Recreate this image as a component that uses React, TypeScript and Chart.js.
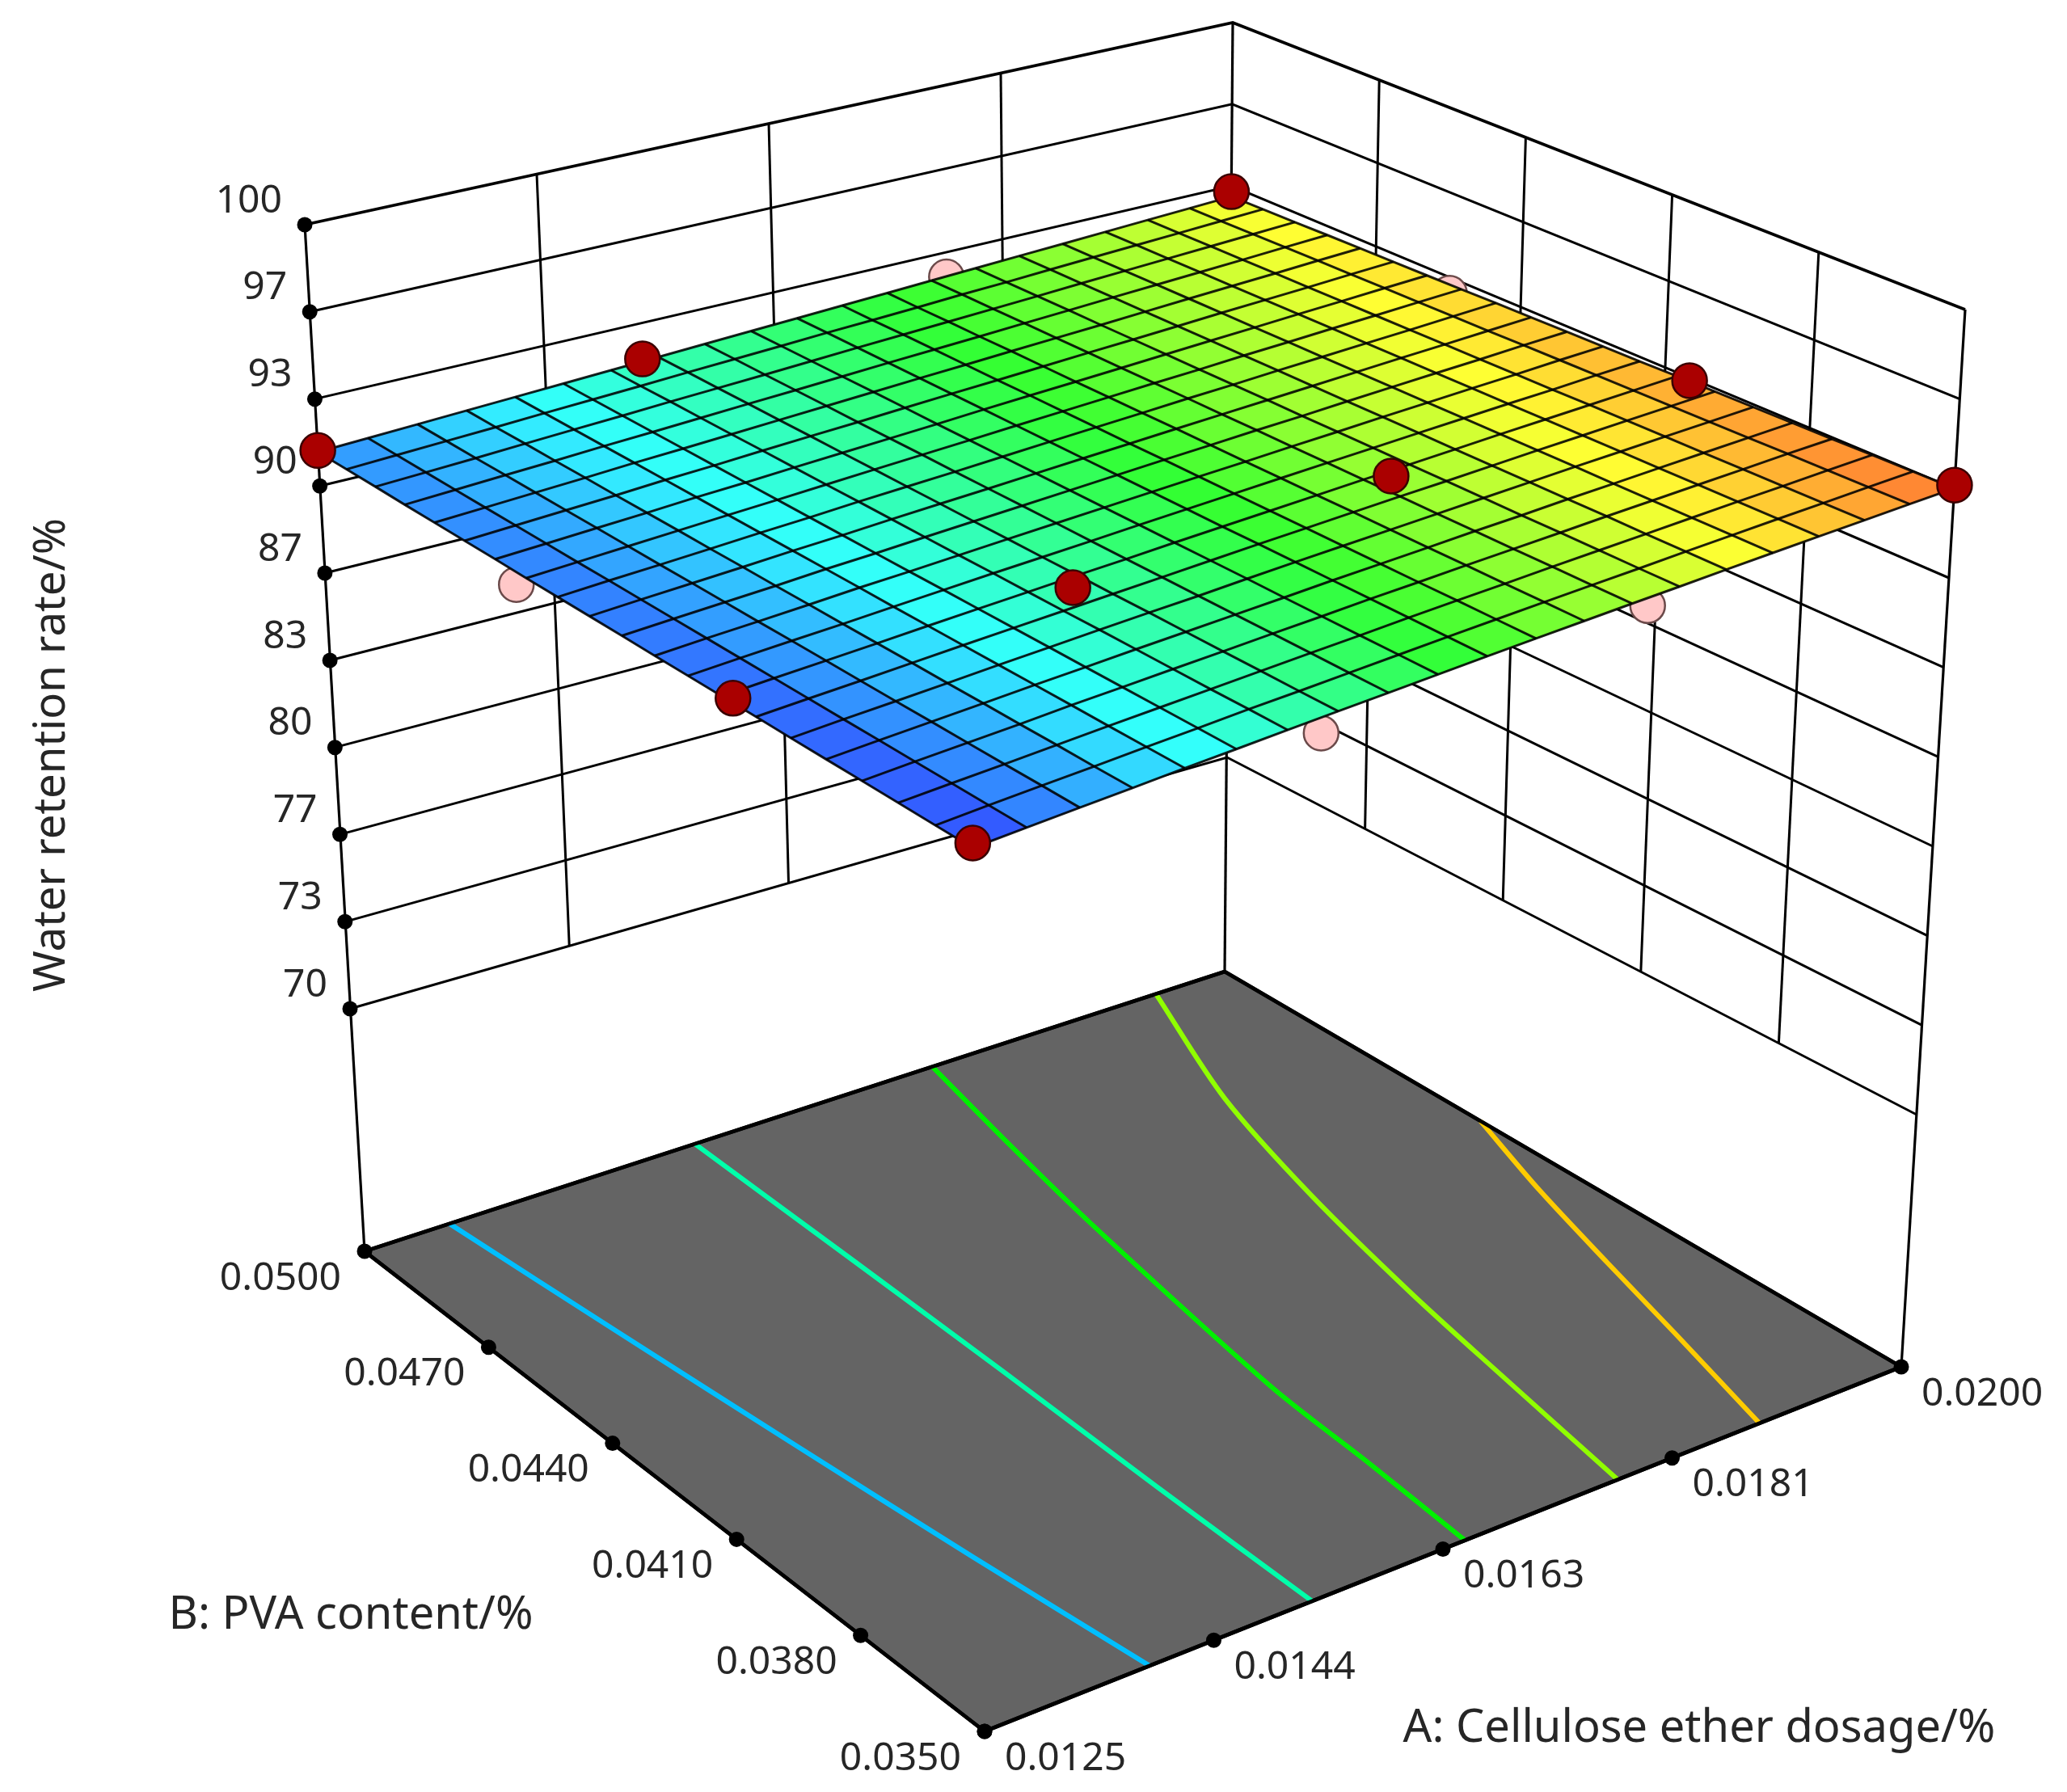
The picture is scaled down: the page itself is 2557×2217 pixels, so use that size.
import React, { useEffect, useRef } from "react";
import { Chart, registerables } from "chart.js";

Chart.register(...registerables);

// ---------- data ----------
const aTicks = [0.0125, 0.014375, 0.01625, 0.018125, 0.02];
const aTickLabels = ["0.0125", "0.0144", "0.0163", "0.0181", "0.0200"];
const bTicks = [0.035, 0.038, 0.041, 0.044, 0.047, 0.05];
const bTickLabels = ["0.0350", "0.0380", "0.0410", "0.0440", "0.0470", "0.0500"];
const zTicks = [70, 73.33, 76.67, 80, 83.33, 86.67, 90, 93.33, 96.67, 100];
const zTickLabels = ["70", "73", "77", "80", "83", "87", "90", "93", "97", "100"];

const surfaceA = [0.0125, 0.012875, 0.01325, 0.013625, 0.014, 0.014375, 0.01475, 0.015125, 0.0155, 0.015875, 0.01625, 0.016625, 0.017, 0.017375, 0.01775, 0.018125, 0.0185, 0.018875, 0.01925, 0.019625, 0.02];
const surfaceB = [0.035, 0.03575, 0.0365, 0.03725, 0.038, 0.03875, 0.0395, 0.04025, 0.041, 0.04175, 0.0425, 0.04325, 0.044, 0.04475, 0.0455, 0.04625, 0.047, 0.04775, 0.0485, 0.04925, 0.05];
// one row per surfaceB value, one column per surfaceA value
const surfaceZ = [
  [91.05,91.19,91.32,91.45,91.59,91.71,91.84,91.96,92.08,92.20,92.32,92.43,92.54,92.65,92.75,92.86,92.96,93.06,93.15,93.25,93.34],
  [91.06,91.20,91.33,91.45,91.59,91.71,91.84,91.95,92.07,92.19,92.31,92.42,92.53,92.63,92.73,92.84,92.94,93.04,93.13,93.23,93.32],
  [91.08,91.21,91.33,91.46,91.59,91.71,91.83,91.95,92.07,92.18,92.30,92.41,92.51,92.62,92.72,92.82,92.92,93.02,93.11,93.21,93.30],
  [91.09,91.22,91.34,91.46,91.60,91.71,91.83,91.94,92.06,92.17,92.29,92.39,92.50,92.60,92.70,92.81,92.90,93.00,93.09,93.19,93.27],
  [91.10,91.23,91.35,91.47,91.60,91.71,91.83,91.94,92.05,92.16,92.28,92.38,92.48,92.59,92.68,92.79,92.88,92.98,93.07,93.16,93.25],
  [91.11,91.24,91.35,91.47,91.60,91.71,91.83,91.94,92.04,92.16,92.27,92.37,92.47,92.57,92.67,92.77,92.87,92.96,93.05,93.14,93.23],
  [91.13,91.25,91.36,91.48,91.60,91.71,91.82,91.93,92.04,92.15,92.26,92.36,92.46,92.56,92.65,92.75,92.85,92.94,93.03,93.12,93.21],
  [91.14,91.26,91.37,91.48,91.60,91.71,91.82,91.93,92.03,92.14,92.24,92.34,92.44,92.54,92.63,92.73,92.83,92.92,93.01,93.10,93.19],
  [91.15,91.27,91.38,91.48,91.60,91.71,91.82,91.92,92.02,92.13,92.23,92.33,92.43,92.53,92.62,92.72,92.81,92.90,92.98,93.08,93.16],
  [91.16,91.28,91.38,91.49,91.61,91.70,91.81,91.92,92.02,92.12,92.22,92.32,92.41,92.51,92.60,92.70,92.79,92.88,92.96,93.06,93.14],
  [91.18,91.29,91.39,91.49,91.61,91.70,91.81,91.91,92.01,92.11,92.21,92.31,92.40,92.50,92.58,92.68,92.77,92.86,92.94,93.04,93.12],
  [91.19,91.30,91.40,91.50,91.61,91.70,91.81,91.91,92.00,92.10,92.20,92.29,92.39,92.48,92.57,92.66,92.75,92.84,92.92,93.01,93.10],
  [91.20,91.31,91.40,91.50,91.61,91.70,91.81,91.90,91.99,92.09,92.19,92.28,92.37,92.47,92.55,92.65,92.73,92.82,92.90,92.99,93.08],
  [91.21,91.31,91.41,91.51,91.61,91.70,91.80,91.90,91.99,92.08,92.18,92.27,92.36,92.45,92.53,92.63,92.71,92.80,92.88,92.97,93.05],
  [91.23,91.32,91.42,91.51,91.62,91.70,91.80,91.89,91.98,92.07,92.17,92.26,92.34,92.43,92.52,92.61,92.69,92.78,92.86,92.95,93.03],
  [91.24,91.33,91.42,91.51,91.62,91.70,91.80,91.89,91.97,92.07,92.16,92.24,92.33,92.42,92.50,92.59,92.68,92.76,92.84,92.93,93.01],
  [91.25,91.34,91.43,91.52,91.62,91.70,91.79,91.88,91.97,92.06,92.15,92.23,92.32,92.40,92.48,92.57,92.66,92.74,92.82,92.91,92.99],
  [91.26,91.35,91.44,91.52,91.62,91.70,91.79,91.88,91.96,92.05,92.14,92.22,92.30,92.39,92.47,92.56,92.64,92.72,92.80,92.89,92.97],
  [91.28,91.36,91.44,91.53,91.62,91.70,91.79,91.87,91.95,92.04,92.13,92.21,92.29,92.37,92.45,92.54,92.62,92.70,92.78,92.86,92.94],
  [91.29,91.37,91.45,91.53,91.62,91.70,91.78,91.87,91.95,92.03,92.12,92.19,92.27,92.36,92.43,92.52,92.60,92.68,92.76,92.84,92.92],
  [91.30,91.38,91.46,91.54,91.62,91.70,91.78,91.86,91.94,92.02,92.10,92.18,92.26,92.34,92.42,92.50,92.58,92.66,92.74,92.82,92.90],
];

// design points above the surface
const aboveA = [0.0125, 0.02, 0.02, 0.0125, 0.015, 0.02, 0.0125, 0.015, 0.0175];
const aboveB = [0.05, 0.05, 0.035, 0.035, 0.05, 0.04, 0.04, 0.04, 0.04];
const aboveZ = [91.36, 93.1, 93.46, 91.22, 91.93, 93.22, 91.31, 91.87, 92.73];
// design points below the surface
const belowA = [0.0175, 0.02, 0.0125, 0.015, 0.0175];
const belowB = [0.05, 0.045, 0.045, 0.035, 0.035];
const belowZ = [92.35, 92.7, 90.74, 91.36, 92.4];

// floor contours
const contour915A = [0.01324, 0.01339, 0.01354, 0.01369, 0.01385];
const contour915B = [0.05, 0.04625, 0.0425, 0.03875, 0.035];
const contour9195A = [0.01538, 0.01533, 0.01528, 0.01522, 0.01518];
const contour9195B = [0.05, 0.04625, 0.0425, 0.03875, 0.035];
const contour924A = [0.01745, 0.0172, 0.01698, 0.01662, 0.01653, 0.01643];
const contour924B = [0.05, 0.04755, 0.0451, 0.04, 0.03748, 0.035];
const contour928A = [0.0194, 0.01882, 0.01843, 0.01813, 0.01792, 0.01768];
const contour928B = [0.05, 0.04696, 0.04396, 0.04091, 0.03827, 0.035];
const contour932A = [0.02, 0.01969, 0.01941, 0.01916, 0.01884];
const contour932B = [0.04433, 0.0422, 0.03994, 0.03778, 0.035];

// ---------- view of the box: where each corner of the box lands ----------
type P = { x: number; y: number };
const A0 = 0.0125, A1 = 0.02, B0 = 0.035, B1 = 0.05;
// corner order: [A0,B0] front, [A1,B0] right, [A1,B1] back, [A0,B1] left
const plane100: P[] = [{ x: 1201, y: 733.5 }, { x: 2431, y: 383 }, { x: 1525, y: 28 }, { x: 377, y: 278 }];
const plane70: P[] = [{ x: 1209, y: 1791 }, { x: 2371, y: 1379 }, { x: 1518, y: 937 }, { x: 433, y: 1248 }];
const planeFloor: P[] = [{ x: 1218, y: 2142 }, { x: 2352, y: 1691 }, { x: 1515, y: 1202 }, { x: 451, y: 1548 }];
// foreshortening of the surface and its points along each axis
const FORE_A = 0.106, FORE_B = 0.155;

const bilinear = (c: P[], u: number, v: number): P => {
  const w = [(1 - u) * (1 - v), u * (1 - v), u * v, (1 - u) * v];
  return {
    x: w[0] * c[0].x + w[1] * c[1].x + w[2] * c[2].x + w[3] * c[3].x,
    y: w[0] * c[0].y + w[1] * c[1].y + w[2] * c[2].y + w[3] * c[3].y,
  };
};
const uOf = (a: number) => (a - A0) / (A1 - A0);
const vOf = (b: number) => (b - B0) / (B1 - B0);
const between = (u: number, v: number, z: number): P => {
  const p = bilinear(plane70, u, v), q = bilinear(plane100, u, v);
  const t = (z - 70) / 30;
  return { x: p.x + (q.x - p.x) * t, y: p.y + (q.y - p.y) * t };
};
// wall positions
const at = (a: number, b: number, z: number): P => between(uOf(a), vOf(b), z);
// surface and design-point positions
const fore = (t: number, g: number) => ((1 + g) * t) / (1 + g * t);
const atSurface = (a: number, b: number, z: number): P =>
  between(fore(uOf(a), FORE_A), fore(vOf(b), FORE_B), z);
const onFloor = (a: number, b: number): P => bilinear(planeFloor, uOf(a), vOf(b));

// surface colour ramp
const Z_MIN = 91.0, Z_MAX = 93.55;
const ramp = [[51, 51, 255], [51, 255, 255], [51, 255, 51], [255, 255, 51], [255, 51, 51]];
const colourOf = (z: number) => {
  const t = Math.max(0, Math.min(0.9999, (z - Z_MIN) / (Z_MAX - Z_MIN))) * 4;
  const i = Math.floor(t), f = t - i;
  const c = ramp[i].map((v, k) => Math.round(v + (ramp[i + 1][k] - v) * f));
  return `rgb(${c[0]},${c[1]},${c[2]})`;
};

const FONT = '"Noto Sans"';
const INK = "#262626";
const line = (data: P[], color: string, width: number, order: number, extra: any = {}) => ({
  type: "scatter" as const, data, showLine: true, pointRadius: 0, pointHoverRadius: 0,
  borderColor: color, borderWidth: width, order, fill: false, tension: 0, ...extra,
});

function buildDatasets() {
  const ds: any[] = [];
  const last = (arr: number[]) => arr[arr.length - 1];
  const zTop = last(zTicks), zLow = zTicks[0];

  // floor
  const fl = [onFloor(A0, B0), onFloor(A1, B0), onFloor(A1, B1), onFloor(A0, B1), onFloor(A0, B0)];
  ds.push(line(fl, "#000", 4.6, 100, { fill: "shape", backgroundColor: "#646464" }));

  // floor contours
  const contours: [number[], number[], string][] = [
    [contour915A, contour915B, "#00BFFF"],
    [contour9195A, contour9195B, "#00FFAA"],
    [contour924A, contour924B, "#00F000"],
    [contour928A, contour928B, "#90FF00"],
    [contour932A, contour932B, "#FFCC00"],
  ];
  contours.forEach(([as, bs, col]) =>
    ds.push(line(as.map((a, i) => onFloor(a, bs[i])), col, 6, 95, { tension: 0.3 })));
  // the floor edge sits over the contour ends
  ds.push(line(fl, "#000", 4.6, 93));

  // wall rungs
  zTicks.forEach((z) => ds.push(line([at(A0, B1, z), at(A1, B1, z), at(A1, B0, z)], "#000", z === zTop ? 3.8 : 3, 90)));
  // inner wall uprights
  aTicks.slice(1, -1).forEach((a) => ds.push(line([at(a, B1, zTop), at(a, B1, zLow)], "#000", 3, 90)));
  bTicks.slice(1, -1).forEach((b) => ds.push(line([at(A1, b, zTop), at(A1, b, zLow)], "#000", 3, 90)));
  // corner uprights, down to the floor
  ([[A0, B1], [A1, B1], [A1, B0]] as number[][]).forEach(([a, b]) =>
    ds.push(line([at(a, b, zTop), onFloor(a, b)], "#000", 3.2, 90)));

  // tick dots
  const dot = (data: P[]) => ({
    type: "scatter" as const, data, pointRadius: 9.5, pointBackgroundColor: "#000", pointBorderWidth: 0, order: 80,
  });
  ds.push(dot(zTicks.map((z) => at(A0, B1, z))));
  ds.push(dot(aTicks.map((a) => onFloor(a, B0))));
  ds.push(dot(bTicks.map((b) => onFloor(A0, b))));

  // points under the surface
  ds.push({
    type: "scatter" as const, data: belowA.map((a, i) => atSurface(a, belowB[i], belowZ[i])),
    pointRadius: 21.5, pointBackgroundColor: "#FFC8C8", pointBorderColor: "#6B4A4A", pointBorderWidth: 2.5, order: 70,
  });

  // surface cells
  for (let j = 0; j < surfaceB.length - 1; j++) {
    for (let i = 0; i < surfaceA.length - 1; i++) {
      const cell = [
        atSurface(surfaceA[i], surfaceB[j], surfaceZ[j][i]),
        atSurface(surfaceA[i + 1], surfaceB[j], surfaceZ[j][i + 1]),
        atSurface(surfaceA[i + 1], surfaceB[j + 1], surfaceZ[j + 1][i + 1]),
        atSurface(surfaceA[i], surfaceB[j + 1], surfaceZ[j + 1][i]),
      ];
      const mean = (surfaceZ[j][i] + surfaceZ[j][i + 1] + surfaceZ[j + 1][i + 1] + surfaceZ[j + 1][i]) / 4;
      const c = colourOf(mean);
      ds.push(line([...cell, cell[0]], c, 1, 60, { fill: "shape", backgroundColor: c }));
    }
  }
  // surface mesh
  surfaceB.forEach((b, j) => ds.push(line(surfaceA.map((a, i) => atSurface(a, b, surfaceZ[j][i])), "rgba(0,0,0,0.88)", 3, 50)));
  surfaceA.forEach((a, i) => ds.push(line(surfaceB.map((b, j) => atSurface(a, b, surfaceZ[j][i])), "rgba(0,0,0,0.88)", 3, 50)));

  // points above the surface
  ds.push({
    type: "scatter" as const, data: aboveA.map((a, i) => atSurface(a, aboveB[i], aboveZ[i])),
    pointRadius: 21.5, pointBackgroundColor: "#AA0000", pointBorderColor: "#3A0000", pointBorderWidth: 2.5, order: 10,
  });
  return ds;
}

const labelPlugin = {
  id: "boxLabels",
  afterDatasetsDraw(chart: any) {
    const { ctx, scales } = chart;
    const px = (p: P) => ({ x: scales.x.getPixelForValue(p.x), y: scales.y.getPixelForValue(p.y) });
    ctx.save();
    ctx.fillStyle = INK;
    ctx.textBaseline = "middle";
    ctx.font = `48px ${FONT}`;
    ctx.textAlign = "right";
    zTicks.forEach((z, i) => {
      const p = px(at(A0, B1, z));
      ctx.fillText(zTickLabels[i], p.x - 28, p.y - 29);
    });
    bTicks.forEach((b, i) => {
      const p = px(onFloor(A0, b));
      ctx.fillText(bTickLabels[i], p.x - 29, p.y + 34);
    });
    ctx.textAlign = "left";
    aTicks.forEach((a, i) => {
      const p = px(onFloor(a, B0));
      ctx.fillText(aTickLabels[i], p.x + 25, p.y + 34);
    });
    ctx.font = `56px ${FONT}`;
    ctx.textAlign = "center";
    ctx.fillText("B: PVA content/%", 434, 1999);
    ctx.fillText("A: Cellulose ether dosage/%", 2102, 2139);
    ctx.font = `54.5px ${FONT}`;
    ctx.translate(64, 934);
    ctx.rotate(-Math.PI / 2);
    ctx.fillText("Water retention rate/%", 0, 0);
    ctx.restore();
  },
};

export default function App() {
  const ref = useRef<HTMLCanvasElement>(null);
  useEffect(() => {
    const chart = new Chart(ref.current as HTMLCanvasElement, {
      type: "scatter",
      data: { datasets: buildDatasets() },
      options: {
        animation: false,
        responsive: false,
        devicePixelRatio: 1,
        events: [],
        layout: { padding: 0, autoPadding: false },
        plugins: { legend: { display: false }, tooltip: { enabled: false } },
        scales: {
          x: { type: "linear", min: 0, max: 2557, display: false },
          y: { type: "linear", min: 0, max: 2217, reverse: true, display: false },
        },
      },
      plugins: [labelPlugin],
    } as any);
    return () => chart.destroy();
  }, []);
  return (
    <div style={{ position: "absolute", left: 0, top: 0, width: 2557, height: 2217, overflow: "hidden", background: "#fff" }}>
      <canvas ref={ref} width={2557} height={2217} style={{ display: "block" }} />
    </div>
  );
}
